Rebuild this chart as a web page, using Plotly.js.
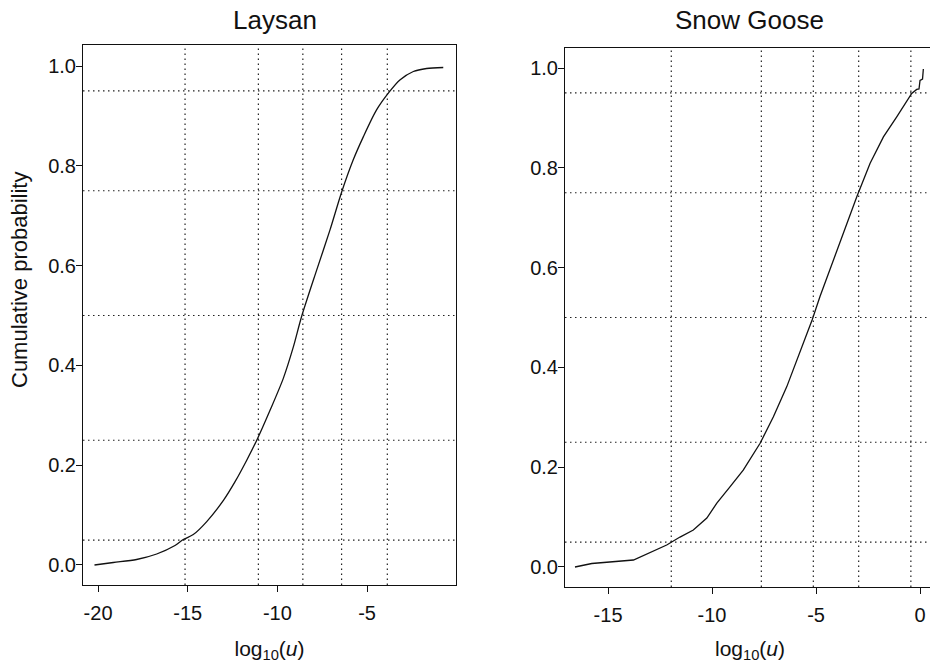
<!DOCTYPE html>
<html>
<head>
<meta charset="utf-8">
<script src="https://cdn.plot.ly/plotly-3.0.1.min.js"></script>
<style>
html, body { margin: 0; padding: 0; overflow: hidden; background: #fff; }
#chart { width: 950px; height: 663px; }
</style>
</head>
<body>
<div id="chart"></div>
<script>
// ---- data ----
const panelTitles = ["Laysan", "Snow Goose"];
const yLabel = "Cumulative probability";
const quantileLevels = [0.05, 0.25, 0.5, 0.75, 0.95];

const laysanX = [-20.2, -19.15, -17.85, -16.73, -15.71, -15.25, -14.69, -13.94, -13.0, -12.36, -11.71, -11.15, -10.41, -9.67, -9.11, -8.65, -7.81, -7.07, -6.42, -5.77, -5.21, -4.47, -3.76, -3.17, -2.42, -1.68, -0.75];
const laysanY = [0.0, 0.005, 0.011, 0.022, 0.039, 0.051, 0.061, 0.087, 0.130, 0.167, 0.210, 0.25, 0.31, 0.374, 0.437, 0.498, 0.591, 0.671, 0.747, 0.812, 0.858, 0.912, 0.948, 0.972, 0.989, 0.995, 0.997];
const laysanQuantileX = [-15.15, -11.06, -8.58, -6.42, -3.87];

const gooseX = [-16.59, -15.78, -13.78, -13.14, -12.18, -11.54, -10.90, -10.25, -9.77, -9.13, -8.50, -7.69, -7.05, -6.41, -5.93, -5.45, -5.18, -4.81, -4.17, -3.69, -3.04, -2.40, -1.76, -1.12, -0.64, -0.40, -0.16, -0.05, 0.0, 0.12, 0.16];
const gooseY = [0.0, 0.007, 0.014, 0.026, 0.044, 0.060, 0.074, 0.098, 0.128, 0.161, 0.194, 0.248, 0.301, 0.361, 0.415, 0.468, 0.496, 0.542, 0.615, 0.668, 0.742, 0.809, 0.862, 0.902, 0.932, 0.949, 0.957, 0.958, 0.975, 0.978, 0.998];
const gooseQuantileX = [-11.96, -7.63, -5.13, -2.95, -0.44];

const xTicksLeft = [-20, -15, -10, -5];
const xTicksRight = [-15, -10, -5, 0];
const yTicks = [0, 0.2, 0.4, 0.6, 0.8, 1.0];

// ---- styling ----
const FONT = "Liberation Sans, Arial, Helvetica, sans-serif";
const INK = "#111";
const dotLine = { color: "#222", width: 1.2, dash: "1.5px,3.5px" };

const traces = [
  { x: laysanX, y: laysanY, xaxis: "x", yaxis: "y", type: "scatter", mode: "lines",
    line: { color: INK, width: 1.3, shape: "spline", smoothing: 0.8 }, hoverinfo: "skip", showlegend: false },
  { x: gooseX, y: gooseY, xaxis: "x2", yaxis: "y2", type: "scatter", mode: "lines",
    line: { color: INK, width: 1.3 }, hoverinfo: "skip", showlegend: false }
];

const shapes = [];
function addGrid(xref, yref, qx) {
  quantileLevels.forEach(q => shapes.push({
    type: "line", xref: xref + " domain", yref: yref, x0: 0, x1: 1, y0: q, y1: q,
    line: dotLine, layer: "below"
  }));
  qx.forEach(v => shapes.push({
    type: "line", xref: xref, yref: yref + " domain", x0: v, x1: v, y0: 0, y1: 1,
    line: dotLine, layer: "below"
  }));
}
addGrid("x", "y", laysanQuantileX);
addGrid("x2", "y2", gooseQuantileX);

const baseAxis = {
  showline: true, mirror: true, linecolor: INK, linewidth: 1,
  ticks: "outside", ticklen: 6, tickwidth: 1, tickcolor: INK,
  showgrid: false, zeroline: false, automargin: false,
  tickfont: { family: FONT, size: 20, color: INK }
};
const axisTitleFont = { family: FONT, size: 21, color: INK };
const xTitle = "log<sub>10</sub>(<i>u</i>)";

const layout = {
  width: 950, height: 663,
  margin: { l: 0, r: 0, t: 0, b: 0 },
  paper_bgcolor: "#fff", plot_bgcolor: "#fff",
  font: { family: FONT, color: INK },
  showlegend: false,
  xaxis: Object.assign({}, baseAxis, {
    domain: [83 / 950, 456 / 950], range: [-20.84, -0.04],
    tickvals: xTicksLeft, ticktext: xTicksLeft.map(String), anchor: "y",
    ticklabelstandoff: 4,
    title: { text: xTitle, font: axisTitleFont }
  }),
  yaxis: Object.assign({}, baseAxis, {
    domain: [78 / 663, 618 / 663], range: [-0.0401, 1.0421],
    tickvals: yTicks, ticktext: yTicks.map(v => v.toFixed(1)), anchor: "x",
    ticklabelstandoff: -4
  }),
  xaxis2: Object.assign({}, baseAxis, {
    domain: [565 / 950, 935 / 950], range: [-17.07, 0.72],
    tickvals: xTicksRight, ticktext: xTicksRight.map(String), anchor: "y2",
    ticklabelstandoff: 4,
    title: { text: xTitle, font: axisTitleFont }
  }),
  yaxis2: Object.assign({}, baseAxis, {
    domain: [76 / 663, 615 / 663], range: [-0.0401, 1.0401],
    tickvals: yTicks, ticktext: yTicks.map(v => v.toFixed(1)), anchor: "x2",
    ticklabelstandoff: -4
  }),
  shapes: shapes,
  annotations: [
    { text: panelTitles[0], xref: "paper", yref: "paper", x: 275 / 950, y: (663 - 20) / 663,
      xanchor: "center", yanchor: "middle", showarrow: false, font: { family: FONT, size: 26, color: INK } },
    { text: panelTitles[1], xref: "paper", yref: "paper", x: 749 / 950, y: (663 - 20) / 663,
      xanchor: "center", yanchor: "middle", showarrow: false, font: { family: FONT, size: 26, color: INK } },
    { text: yLabel, xref: "paper", yref: "paper", x: 19 / 950, y: (663 - 280) / 663,
      xanchor: "center", yanchor: "middle", textangle: -90, showarrow: false,
      font: { family: FONT, size: 22, color: INK } }
  ]
};

Plotly.newPlot("chart", traces, layout, { staticPlot: true, displayModeBar: false });
</script>
</body>
</html>
